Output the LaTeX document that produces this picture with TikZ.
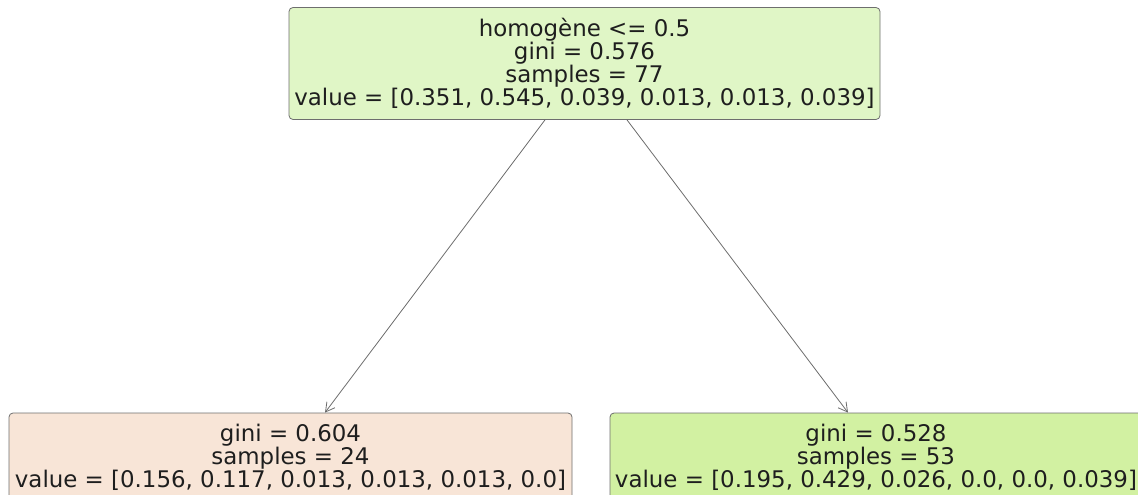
\documentclass[tikz,border=0pt]{standalone}
\usepackage{fontspec}
\setmainfont{DejaVu Sans}
\usetikzlibrary{arrows.meta}

\definecolor{rootfill}{HTML}{E0F6C6}
\definecolor{leftfill}{HTML}{F8E5D7}
\definecolor{rightfill}{HTML}{D2F1A2}
\definecolor{edgegray}{HTML}{6E6E6E}
\definecolor{textgray}{HTML}{1E1E1E}

\tikzset{
  treenode/.style={draw=edgegray, thick, rounded corners=4pt, inner sep=0pt,
    align=center, text=textgray, font=\fontsize{22.9}{23}\selectfont},
  treeedge/.style={draw=gray!85!black, thick, -{Straight Barb[length=9pt,width=10pt]}}
}

\begin{document}
\begin{tikzpicture}[x=1pt,y=-1pt]

  % Picture size (pixels of the reference)
  \def\PW{1138}
  \def\PH{495}
  \clip (0,0) rectangle (\PW,\PH);

  % Split node
  \node[treenode, fill=rootfill, minimum width=591pt, minimum height=112pt]
    (root) at (584.5,63.5)
    {homogène <= 0.5\\ gini = 0.576\\ samples = 77\\
     value = [0.351, 0.545, 0.039, 0.013, 0.013, 0.039]};

  % Leaves
  \node[treenode, fill=leftfill, minimum width=563pt, minimum height=88pt]
    (leftleaf) at (290.5,457)
    {gini = 0.604\\ samples = 24\\ value = [0.156, 0.117, 0.013, 0.013, 0.013, 0.0]};
  \node[treenode, fill=rightfill, minimum width=532pt, minimum height=88pt]
    (rightleaf) at (876,457)
    {gini = 0.528\\ samples = 53\\ value = [0.195, 0.429, 0.026, 0.0, 0.0, 0.039]};

  % Edges
  \draw[treeedge] ([xshift=-39.5pt]root.south) -- ([xshift=34.5pt]leftleaf.north);
  \draw[treeedge] ([xshift=42.5pt]root.south) -- ([xshift=-28pt]rightleaf.north);

\end{tikzpicture}
\end{document}
